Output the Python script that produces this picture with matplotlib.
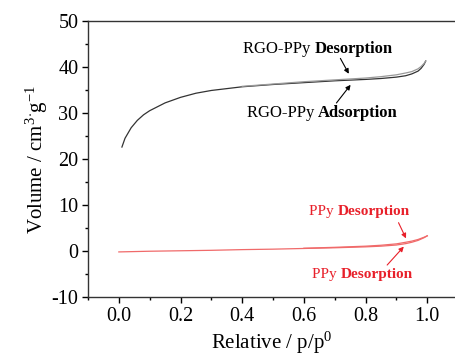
#!/usr/bin/env python3
# N2 adsorption/desorption isotherms: RGO-PPy vs PPy
import numpy as np
import matplotlib
matplotlib.use("Agg")
import matplotlib.pyplot as plt
from matplotlib.ticker import MultipleLocator

plt.rcParams["font.family"] = ["Liberation Serif", "DejaVu Serif"]
plt.rcParams["mathtext.fontset"] = "custom"
plt.rcParams["mathtext.rm"] = "Liberation Serif"
plt.rcParams["mathtext.it"] = "Liberation Serif:italic"
plt.rcParams["mathtext.bf"] = "Liberation Serif:bold"
plt.rcParams["axes.unicode_minus"] = False

# RGO-PPy adsorption branch
rgo_ads_x = [0.01, 0.02, 0.04, 0.06, 0.08, 0.10, 0.15, 0.20, 0.25, 0.30, 0.40,
             0.50, 0.60, 0.70, 0.80, 0.85, 0.90, 0.93, 0.95, 0.97, 0.98, 0.99, 0.995]
rgo_ads_y = [22.6, 24.5, 26.8, 28.4, 29.6, 30.5, 32.2, 33.4, 34.3, 34.9, 35.7,
             36.2, 36.6, 37.0, 37.3, 37.5, 37.8, 38.1, 38.5, 39.1, 39.7, 40.6, 41.3]
# RGO-PPy desorption branch
rgo_des_x = [0.995, 0.99, 0.98, 0.97, 0.95, 0.93, 0.90, 0.85, 0.80, 0.70, 0.60, 0.50, 0.40]
rgo_des_y = [41.3, 40.8, 40.1, 39.6, 39.0, 38.7, 38.3, 37.9, 37.6, 37.2, 36.8, 36.3, 35.8]
# PPy adsorption branch
ppy_ads_x = [0.0, 0.1, 0.2, 0.3, 0.4, 0.5, 0.6, 0.7, 0.8, 0.85, 0.9, 0.93, 0.95, 0.97, 0.99, 1.0]
ppy_ads_y = [-0.2, -0.05, 0.05, 0.15, 0.3, 0.4, 0.55, 0.7, 0.9, 1.05, 1.3, 1.6, 1.9, 2.3, 2.9, 3.3]
# PPy desorption branch
ppy_des_x = [1.0, 0.99, 0.97, 0.95, 0.93, 0.9, 0.85, 0.8, 0.7, 0.6]
ppy_des_y = [3.3, 3.0, 2.5, 2.15, 1.9, 1.55, 1.25, 1.05, 0.8, 0.6]

xticks = [0.0, 0.2, 0.4, 0.6, 0.8, 1.0]

red_line = "#f06a6a"
red_text = "#e8202a"

fig = plt.figure(figsize=(4.55, 3.57), dpi=100)
ax = fig.add_axes([88 / 455, 1 - 297 / 357, (455 - 88) / 455, (297 - 21) / 357])

ax.plot(rgo_ads_x, rgo_ads_y, color="#333333", lw=0.9)
ax.plot(rgo_des_x, rgo_des_y, color="#999999", lw=0.9)
ax.plot(ppy_ads_x, ppy_ads_y, color=red_line, lw=0.9)
ax.plot(ppy_des_x, ppy_des_y, color=red_line, lw=0.9)

ax.set_xlim(-0.1, 1.09)
ax.set_ylim(-10, 50)
ax.set_xticks(xticks)
ax.set_xticklabels([f"{v:.1f}" for v in xticks])
ax.xaxis.set_minor_locator(MultipleLocator(0.1))
ax.yaxis.set_major_locator(MultipleLocator(10))
ax.yaxis.set_minor_locator(MultipleLocator(5))
ax.spines["right"].set_visible(False)
for s in ["left", "bottom", "top"]:
    ax.spines[s].set_linewidth(1.0)
    ax.spines[s].set_color("#333333")
ax.tick_params(which="major", direction="out", length=4, width=1, labelsize=14.5, pad=3)
ax.tick_params(which="minor", direction="out", length=2.5, width=1)
ax.tick_params(axis="x", which="both", top=False)

ax.set_xlabel(r"Relative / p/p$^{\mathrm{0}}$", fontsize=15, labelpad=3)
ax.set_ylabel(r"Volume / cm$^{\mathrm{3}}$$^{\cdot}$g$^{\mathrm{-1}}$", fontsize=15, labelpad=1)

arrow_k = dict(arrowstyle="-|>", color="black", lw=0.8, mutation_scale=7)
ax.text(0.636, 44.0, "RGO-PPy ", ha="right", va="center", fontsize=12)
ax.text(0.636, 44.0, "Desorption", ha="left", va="center", fontsize=12, fontweight="bold")
ax.annotate("", xy=(0.75, 38.0), xytext=(0.714, 42.4), arrowprops=arrow_k)

ax.text(0.646, 30.0, "RGO-PPy ", ha="right", va="center", fontsize=12)
ax.text(0.646, 30.0, "Adsorption", ha="left", va="center", fontsize=12, fontweight="bold")
ax.annotate("", xy=(0.757, 36.6), xytext=(0.70, 31.7), arrowprops=arrow_k)

arrow_r = dict(arrowstyle="-|>", color=red_text, lw=0.8, mutation_scale=7)
ax.text(0.71, 8.5, "PPy ", ha="right", va="center", fontsize=11, color=red_text)
ax.text(0.71, 8.5, "Desorption", ha="left", va="center", fontsize=11,
        fontweight="bold", color=red_text)
ax.annotate("", xy=(0.935, 2.2), xytext=(0.903, 6.7), arrowprops=arrow_r)

ax.text(0.72, -5.2, "PPy ", ha="right", va="center", fontsize=11, color=red_text)
ax.text(0.72, -5.2, "Desorption", ha="left", va="center", fontsize=11,
        fontweight="bold", color=red_text)
ax.annotate("", xy=(0.93, 1.4), xytext=(0.864, -3.5), arrowprops=arrow_r)

fig.savefig("out.png", dpi=100)
